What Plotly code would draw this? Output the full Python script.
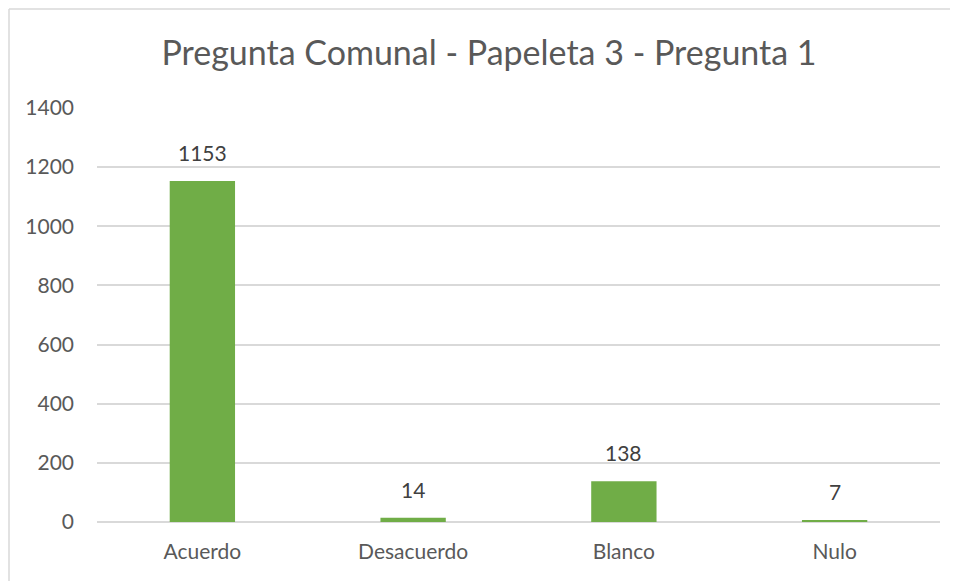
import plotly.graph_objects as go

categories = ["Acuerdo", "Desacuerdo", "Blanco", "Nulo"]
values = [1153, 14, 138, 7]
y_ticks = [0, 200, 400, 600, 800, 1000, 1200, 1400]
title_text = "Pregunta Comunal - Papeleta 3 - Pregunta 1"

FONT = "Lato"
OFF = 8  # page body margin
W, H = 958 - OFF, 581 - OFF
L, R, T, B = 97 - OFF, 18, 108 - OFF, 59

fig = go.Figure()
fig.add_trace(go.Bar(
    x=categories, y=values,
    marker=dict(color="#70AD47", line=dict(width=0)),
    width=0.31,
    hoverinfo="x+y",
))

for c, v in zip(categories, values):
    fig.add_annotation(x=c, y=v, text=str(v), showarrow=False,
                       yanchor="bottom", yshift=14,
                       font=dict(family=FONT, size=21, color="#404040"))

pw = W - L - R
ph = H - T - B
bx = (1 - L) / pw
by = 1 + (T - 1) / ph
fig.add_shape(type="line", xref="paper", yref="paper", x0=bx, x1=1 + (R + 5) / pw, y0=by, y1=by,
              line=dict(color="#D9D9D9", width=1.5))
fig.add_shape(type="line", xref="paper", yref="paper", x0=bx, x1=bx, y0=by, y1=-(B + 5) / ph,
              line=dict(color="#D9D9D9", width=1.5))

fig.update_layout(
    width=W, height=H,
    margin=dict(l=L, r=R, t=T, b=B),
    paper_bgcolor="white", plot_bgcolor="white",
    title=dict(text=title_text, x=(489 - OFF) / W, xanchor="center", xref="container",
               y=1 - (53 - OFF) / H, yanchor="middle", yref="container",
               font=dict(family=FONT, size=34, color="#595959")),
    showlegend=False,
    bargap=0.69,
    xaxis=dict(showgrid=False, showline=False, zeroline=False, ticks="",
               tickfont=dict(family=FONT, size=21, color="#595959"),
               ticklabelstandoff=15),
    yaxis=dict(range=[0, 1400], tickvals=y_ticks, showgrid=True, gridcolor="#D9D9D9",
               gridwidth=1.5, zeroline=True, zerolinecolor="#D9D9D9", zerolinewidth=1.5,
               showline=False, ticks="",
               tickfont=dict(family=FONT, size=21, color="#595959"),
               ticklabelstandoff=22),
)

fig.write_html("out.html")
